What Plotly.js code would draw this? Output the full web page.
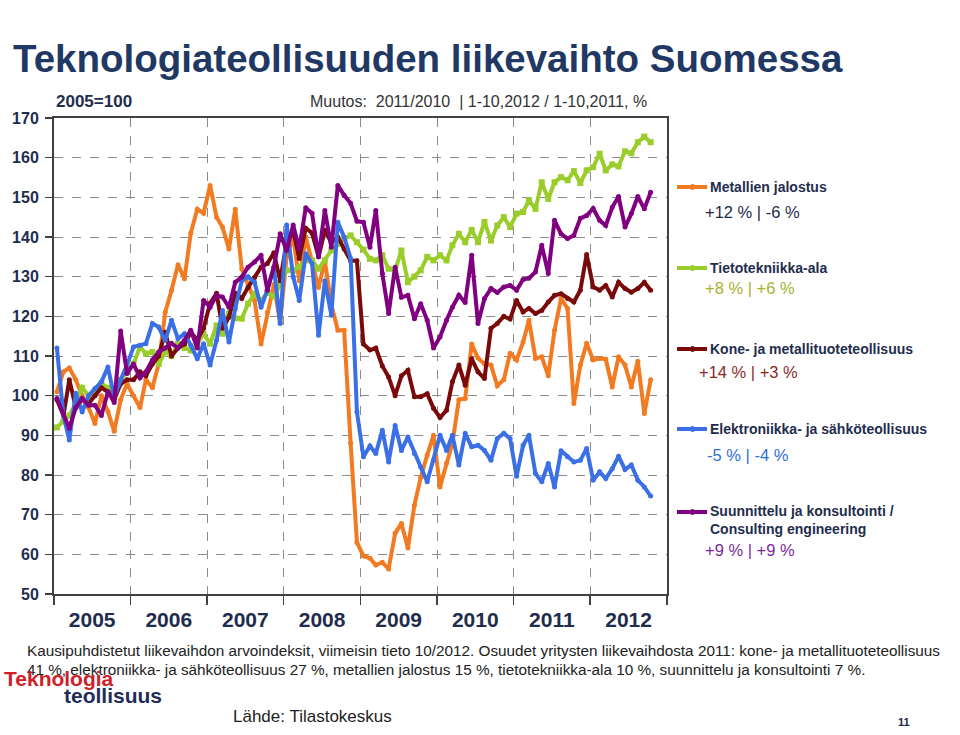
<!DOCTYPE html>
<html><head><meta charset="utf-8">
<script src="https://cdn.plot.ly/plotly-3.0.1.min.js"></script>
<style>html,body{margin:0;padding:0;background:#fff;}#chart{width:960px;height:735px;}</style>
</head><body><div id="chart"></div>
<script>
// ---- data (2005=100, monthly, Jan 2005 - Oct 2012) ----
const years = [2005, 2006, 2007, 2008, 2009, 2010, 2011, 2012];
const yearLabels = ['2005', '2006', '2007', '2008', '2009', '2010', '2011', '2012'];
const lastMonthIn2012 = 10;

const metallienJalostus = [
  101, 106, 107, 104, 100, 97, 93, 100, 96, 91, 99, 103,
  100, 97, 104, 102, 108, 121, 126.5, 133, 129.5, 141, 147, 146,
  153, 145, 142.5, 137, 147, 132, 128, 124, 113, 121, 128, 118.3,
  135, 140, 129, 140, 134, 127.3, 134, 123, 116.5, 116.5, 88, 63,
  59.6, 59, 57.3, 58, 56.3, 65.3, 67.8, 61.6, 72.4, 79.4, 85, 90,
  77, 83, 88, 99, 99.3, 113, 109.5, 108, 107.7, 102.5, 104, 110.7,
  109, 113.5, 119, 109.4, 109.8, 105, 116.5, 124.5, 122, 98, 107.7, 113.2,
  109, 109.4, 109.2, 102.2, 109.8, 107.7, 102.2, 108.7, 95.5, 104
];
const tietotekniikka = [
  92, 93.5, 95, 98, 102, 100, 101, 103, 102, 100, 104, 106,
  108, 112.3, 110.6, 111, 108, 111, 110, 113, 112, 111.4, 113, 115.6,
  113.1, 117.7, 115.6, 120.7, 119.5, 119.4, 123.2, 125.7, 124, 126, 125, 128,
  131.6, 131.6, 132.4, 134.1, 134.1, 132, 134.1, 136.6, 138.3, 139.5, 140.4, 138.7,
  136.8, 134.5, 134.1, 135.4, 132, 131.6, 136.6, 128.6, 130, 131.6, 135, 134.1,
  135.4, 134.1, 137.9, 140.8, 138.7, 141.8, 138.7, 143.8, 139.1, 142.9, 145, 142.5,
  145.9, 146.3, 149.2, 147.1, 153.8, 149.6, 153.8, 155.1, 154.3, 156.6, 153.6, 156.8,
  157.6, 161, 156.8, 158.3, 157.8, 161.6, 161.1, 163.9, 165.3, 163.9
];
const koneJaMetallituote = [
  99, 95, 104, 97, 99, 98, 100, 102, 101, 99, 103, 104,
  104, 106, 105, 108, 110, 116, 110, 112, 113, 116, 114, 117,
  123.3, 125.8, 117, 119.8, 125.8, 124.5, 127.3, 129.8, 132.4, 133.3, 136, 129,
  138.6, 141.7, 134.6, 142.2, 141, 135, 141.7, 138.6, 140, 137, 134, 134,
  113, 111.5, 112, 107.5, 104.7, 100, 105, 106.4, 99.7, 99.7, 100.5, 96.8,
  94.5, 96.3, 103.5, 107.7, 102.6, 109.3, 106, 104.3, 117, 118.2, 120, 119.3,
  124, 121.1, 122, 120.7, 121.5, 123.6, 125.3, 125.7, 124.5, 123.6, 126.6, 135.6,
  127.4, 126.6, 127.8, 124.9, 128.6, 127, 126.1, 127, 128.6, 126.6
];
const elektroniikka = [
  112, 95, 88.8, 100.6, 95.9, 100, 101.8, 103.5, 107.2, 99.7, 104, 107.7,
  112.3, 112.7, 113.1, 118.2, 117.3, 113.9, 119, 114.4, 115.6, 112.7, 109.3, 113.1,
  107.7, 114, 121.5, 113.5, 122, 129, 130, 128.6, 122.3, 126.6, 132.4, 118.2,
  143, 130, 124, 135.8, 133.3, 115.2, 129, 120.3, 143.7, 140, 134.6, 95.9,
  84.6, 87.3, 85.4, 91.3, 83.3, 92.5, 86.2, 89.6, 85.4, 82, 78.3, 83.7,
  90, 86.2, 90, 82.5, 90.5, 87.1, 87.5, 86.2, 83.7, 89.2, 90.5, 89.2,
  79.7, 87.5, 90, 80.4, 78.3, 82.9, 77, 86.1, 84.6, 83.3, 83.7, 86.7,
  78.7, 80.8, 79.1, 81.6, 84.7, 81.4, 82.5, 78.7, 77, 74.7
];
const suunnittelu = [
  99.3, 95.5, 91.8, 97, 99.3, 97.6, 97.6, 95, 101, 98.3, 116.3, 105.6,
  108, 104.5, 106, 109, 111, 112, 113.2, 112, 114, 116.5, 112, 124,
  122.3, 125.3, 124.9, 122.3, 128.6, 129.9, 132.4, 133.7, 135.4, 126.6, 132.4, 140.8,
  136.6, 143, 137, 147.4, 146, 135, 146.7, 137.4, 153, 150.5, 148.5, 144,
  143.7, 137.4, 146.7, 130.8, 120.7, 132.4, 124.8, 125.3, 119.4, 123.2, 119, 112,
  114.8, 119, 122.3, 125.3, 123.5, 135.4, 118.2, 124.5, 127, 126, 127.4, 127.8,
  126.6, 129.3, 129.6, 131.2, 137.9, 130.8, 144.2, 140.8, 139.6, 140.4, 144.7, 145.4,
  147.2, 144.2, 142.9, 147.5, 150.2, 142.5, 145.9, 150.2, 147.1, 151.3
];

const seriesNames = ['Metallien jalostus', 'Tietotekniikka-ala', 'Kone- ja metallituoteteollisuus',
  'Elektroniikka- ja sähköteollisuus', 'Suunnittelu ja konsultointi / Consulting engineering'];
const changeTexts = ['+12 % | -6 %', '+8 % | +6 %', '+14 % | +3 %', '-5 % | -4 %', '+9 % | +9 %'];

// ---- styles ----
const colors = ['#F27B21', '#9ACD2A', '#7A0A0A', '#3A6FE6', '#800080'];
const changeColors = ['#1F2A4A', '#A8B22C', '#8A2A2A', '#2E6FD8', '#7A2A9A'];
const markerSymbols = ['circle', 'square', 'circle', 'circle', 'circle'];
const navy = '#1F2D4D';
const sans = 'Liberation Sans, Arial, sans-serif';

// month axis (category positions)
const months = [];
years.forEach(y => {
  for (let m = 1; m <= 12; m++) {
    if (y === 2012 && m > lastMonthIn2012) break;
    months.push(`${y}-${String(m).padStart(2, '0')}-15`);
  }
});

const allSeries = [metallienJalostus, tietotekniikka, koneJaMetallituote, elektroniikka, suunnittelu];
const traces = allSeries.map((vals, k) => ({
  type: 'scatter', mode: 'lines+markers', name: seriesNames[k],
  x: months, y: vals,
  line: {color: colors[k], width: 4},
  marker: {color: colors[k], size: k === 1 ? 6 : 5, symbol: markerSymbols[k]},
  cliponaxis: true,
  hoverinfo: 'x+y+name'
}));

// plot area in pixels
const L = 54, R = 667, T = 118, B = 594;
const px = x => (x - L) / (R - L);
const py = y => (B - y) / (B - T);

const annotations = [];
const shapes = [];
function txt(x, y, text, size, color, weight, extra) {
  annotations.push(Object.assign({
    xref: 'paper', yref: 'paper', x: px(x), y: py(y), text: text, showarrow: false,
    xanchor: 'left', yanchor: 'middle', align: 'left',
    font: {family: sans, size: size, color: color, weight: weight || 'normal'}
  }, extra || {}));
}

// title + header
txt(11, 58, 'Teknologiateollisuuden liikevaihto Suomessa', 38.5, '#1F3864', 'bold');
txt(54, 102, '2005=100', 17, navy, 'bold');
txt(308, 102, 'Muutos:  2011/2010  | 1-10,2012 / 1-10,2011, %', 16, '#333333');

// legend (drawn beside the plot, with change figures)
const legY = [187, 268, 349, 429, 512];
const chgY = [212, 288, 372, 455, 550];
const chgX = [703, 703, 697, 705, 703];
seriesNames.forEach((n, k) => {
  shapes.push({type: 'line', xref: 'paper', yref: 'paper', x0: px(677), x1: px(707), y0: py(legY[k]), y1: py(legY[k]),
    line: {color: colors[k], width: 4}});
  shapes.push({type: 'circle', xref: 'paper', yref: 'paper', x0: px(690), x1: px(695), y0: py(legY[k] - 2.5), y1: py(legY[k] + 2.5),
    fillcolor: colors[k], line: {color: colors[k], width: 1}});
  const label = k === 4 ? 'Suunnittelu ja konsultointi /<br>Consulting engineering' : n;
  const yy = k === 4 ? legY[k] + 8 : legY[k];
  txt(708, yy, label, 14, navy, 'bold');
  txt(chgX[k], chgY[k], changeTexts[k], 16.5, changeColors[k]);
});

// footnotes
txt(25, 650, 'Kausipuhdistetut liikevaihdon arvoindeksit, viimeisin tieto 10/2012. Osuudet yritysten liikevaihdosta 2011: kone- ja metallituoteteollisuus', 15.3, '#222222');
txt(25, 670, '41 %, elektroniikka- ja sähköteollisuus 27 %, metallien jalostus 15 %, tietotekniikka-ala 10 %, suunnittelu ja konsultointi 7 %.', 15.3, '#222222');
txt(2, 678, 'Teknologia', 21, '#D0202A', 'bold');
txt(62, 695, 'teollisuus', 21, '#1F2D5A', 'bold');
txt(231, 716, 'Lähde: Tilastokeskus', 17, '#222222');
txt(896, 722, '11', 11, navy, 'bold');

const layout = {
  width: 960, height: 735,
  margin: {l: L, r: 960 - R, t: T, b: 735 - B, pad: 0},
  paper_bgcolor: '#ffffff', plot_bgcolor: '#ffffff',
  showlegend: false,
  xaxis: {
    type: 'date', range: ['2005-01-01', '2013-01-01'],
    tickmode: 'array', tickvals: years.map(y => `${y}-07-02`), ticktext: yearLabels,
    ticks: '', showgrid: false, zeroline: false,
    showline: true, mirror: true, linecolor: '#404040', linewidth: 2,
    tickfont: {family: sans, size: 21, color: navy, weight: 'bold'},
    ticklabelstandoff: 6,
    minor: {tickmode: 'array', tickvals: years.slice(1).map(y => `${y}-01-01`).concat(['2013-01-01', '2005-01-01']),
      showgrid: true, griddash: 'dash', gridcolor: '#8c8c8c', gridwidth: 1,
      ticks: 'outside', ticklen: 9, tickcolor: '#404040', tickwidth: 1.5}
  },
  yaxis: {
    range: [50, 170], tick0: 50, dtick: 10,
    showgrid: true, griddash: 'dash', gridcolor: '#8c8c8c', gridwidth: 1, zeroline: false,
    showline: true, mirror: true, linecolor: '#404040', linewidth: 2,
    ticks: 'outside', ticklen: 7, tickcolor: '#404040', tickwidth: 1.5,
    tickfont: {family: sans, size: 16, color: navy, weight: 'bold'},
    ticklabelstandoff: 3
  },
  annotations: annotations,
  shapes: shapes
};

Plotly.newPlot('chart', traces, layout, {displayModeBar: false, staticPlot: true});
</script>
</body></html>
